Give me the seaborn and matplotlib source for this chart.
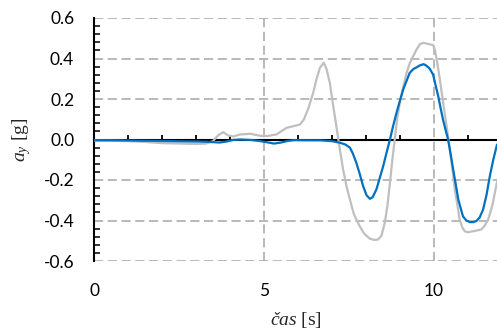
import matplotlib
matplotlib.use("Agg")
import matplotlib.pyplot as plt
import seaborn as sns
import pandas as pd
from matplotlib.ticker import MultipleLocator, FixedLocator

# ---- data ----
t_blue = [0, 0.5, 1.0, 1.5, 2.0, 2.5, 3.0, 3.3, 3.5, 3.7, 3.9, 4.1, 4.3, 4.6, 4.9, 5.1,
          5.3, 5.5, 5.7, 5.9, 6.2, 6.65, 7.0, 7.24, 7.4, 7.53, 7.62, 7.72, 7.82, 7.92,
          8.02, 8.12, 8.2, 8.31, 8.41, 8.51, 8.61, 8.71, 8.8, 8.9, 9.0, 9.1, 9.2, 9.29,
          9.4, 9.5, 9.59, 9.7, 9.78, 9.88, 9.98, 10.05, 10.13, 10.2, 10.27, 10.35, 10.42,
          10.5, 10.57, 10.65, 10.72, 10.8, 10.86, 10.96, 11.06, 11.16, 11.25, 11.35,
          11.45, 11.55, 11.65, 11.75, 11.86]
a_blue = [-0.004, -0.004, -0.005, -0.006, -0.007, -0.009, -0.010, -0.011, -0.013, -0.015,
          -0.010, -0.002, 0.000, -0.002, -0.008, -0.014, -0.020, -0.015, -0.007, -0.003,
          -0.004, -0.004, -0.008, -0.016, -0.025, -0.040, -0.070, -0.115, -0.170, -0.230,
          -0.275, -0.293, -0.285, -0.247, -0.190, -0.132, -0.065, 0.000, 0.065, 0.130,
          0.190, 0.247, 0.290, 0.329, 0.348, 0.357, 0.366, 0.372, 0.365, 0.350, 0.320,
          0.270, 0.214, 0.155, 0.099, 0.045, 0.000, -0.075, -0.148, -0.225, -0.296,
          -0.345, -0.380, -0.400, -0.408, -0.408, -0.403, -0.385, -0.346, -0.275, -0.180,
          -0.100, -0.025]

t_gray = [0, 0.5, 1.0, 1.5, 2.0, 2.5, 3.0, 3.3, 3.5, 3.65, 3.8, 3.95, 4.1, 4.3, 4.6, 4.9,
          5.1, 5.37, 5.55, 5.67, 5.85, 6.06, 6.18, 6.3, 6.45, 6.55, 6.65, 6.76, 6.84, 6.94,
          7.04, 7.12, 7.19, 7.33, 7.43, 7.53, 7.65, 7.82, 7.95, 8.12, 8.25, 8.36, 8.46,
          8.56, 8.64, 8.71, 8.78, 8.85, 8.92, 9.0, 9.1, 9.2, 9.3, 9.39, 9.49, 9.6, 9.7,
          9.88, 9.98, 10.03, 10.1, 10.18, 10.25, 10.32, 10.4, 10.47, 10.55, 10.62, 10.7,
          10.76, 10.84, 10.91, 11.0, 11.16, 11.3, 11.4, 11.5, 11.6, 11.68, 11.74, 11.8, 11.86]
a_gray = [-0.005, -0.006, -0.008, -0.012, -0.018, -0.020, -0.022, -0.020, -0.008, 0.020,
          0.036, 0.020, 0.015, 0.025, 0.028, 0.018, 0.017, 0.025, 0.045, 0.058, 0.065,
          0.074, 0.100, 0.150, 0.230, 0.300, 0.354, 0.379, 0.350, 0.280, 0.165, 0.080,
          0.000, -0.148, -0.230, -0.296, -0.370, -0.428, -0.465, -0.490, -0.496, -0.494,
          -0.475, -0.410, -0.320, -0.214, -0.100, 0.000, 0.100, 0.180, 0.260, 0.330,
          0.380, 0.410, 0.444, 0.472, 0.477, 0.470, 0.466, 0.444, 0.380, 0.296, 0.210,
          0.130, 0.040, -0.050, -0.150, -0.247, -0.330, -0.395, -0.435, -0.453, -0.458,
          -0.453, -0.448, -0.444, -0.425, -0.395, -0.350, -0.313, -0.260, -0.210]

x_ticks = [0, 5, 10]
y_ticks = [-0.6, -0.4, -0.2, 0.0, 0.2, 0.4, 0.6]
x_label = r"$\mathit{čas}$ [s]"
y_label = r"$a_y$ [g]"

# ---- style ----
sns.set_style("white")
plt.rcParams["font.family"] = ["Lato", "DejaVu Sans"]
plt.rcParams["axes.unicode_minus"] = False
plt.rcParams["mathtext.fontset"] = "custom"
plt.rcParams["mathtext.rm"] = "Liberation Serif"
plt.rcParams["mathtext.it"] = "Liberation Serif:italic"

df_blue = pd.DataFrame({"t": t_blue, "a": a_blue})
df_gray = pd.DataFrame({"t": t_gray, "a": a_gray})

fig = plt.figure(figsize=(4.97, 3.33), dpi=100)
ax = fig.add_axes([94 / 497, 1 - 261 / 333, (497 - 94) / 497, (261 - 18) / 333])

sns.lineplot(data=df_gray, x="t", y="a", ax=ax, color="#BFBFBF", linewidth=1.6,
             estimator=None, sort=False, zorder=3)
sns.lineplot(data=df_blue, x="t", y="a", ax=ax, color="#0070C0", linewidth=1.6,
             estimator=None, sort=False, zorder=4)

ax.set_xlim(0, 11.86)
ax.set_ylim(-0.6, 0.6)

# grid
ax.set_axisbelow(True)
ax.xaxis.set_major_locator(FixedLocator(x_ticks))
ax.yaxis.set_major_locator(FixedLocator(y_ticks))
ax.xaxis.set_minor_locator(MultipleLocator(1))
ax.yaxis.set_minor_locator(MultipleLocator(0.04))
ax.grid(True, which="major", color="#A6A6A6", linestyle=(0, (6, 3)), linewidth=1.1)

# spines
for s in ["top", "right"]:
    ax.spines[s].set_visible(False)
ax.spines["bottom"].set_position(("data", 0))
ax.spines["bottom"].set_linewidth(1.5)
ax.spines["left"].set_linewidth(1.5)
ax.spines["bottom"].set_color("black")
ax.spines["left"].set_color("black")
ax.spines["bottom"].set_zorder(2.5)

ax.tick_params(axis="x", which="major", direction="inout", length=7.5, width=1.3,
               color="black", labelbottom=False)
ax.tick_params(axis="x", which="minor", direction="in", length=3.8, width=1.3,
               color="black", bottom=True)
ax.tick_params(axis="y", which="major", direction="inout", length=8.6, width=1.3,
               color="black", pad=10, labelsize=12.5, labelcolor="black")
ax.tick_params(axis="y", which="minor", direction="in", length=4.3, width=1.1,
               color="black", left=True)
ax.set_yticklabels([f"{v:.1f}" for v in y_ticks])

# x tick labels at the bottom of the plot area
sec = ax.secondary_xaxis("bottom")
sec.set_xticks(x_ticks)
sec.set_xticklabels([str(v) for v in x_ticks])
sec.spines["bottom"].set_visible(False)
sec.tick_params(axis="x", which="both", length=0, pad=16, labelsize=12.5, labelcolor="black")

ax.set_xlabel("")
ax.set_ylabel(y_label, fontsize=14, family="Liberation Serif")
ax.yaxis.set_label_coords(-0.152, 0.5)
fig.text((94 + 497) / 2 / 497, 1 - 320 / 333, x_label, ha="center", va="center",
         fontsize=14, family="Liberation Serif")

fig.savefig("out.png", dpi=100)
